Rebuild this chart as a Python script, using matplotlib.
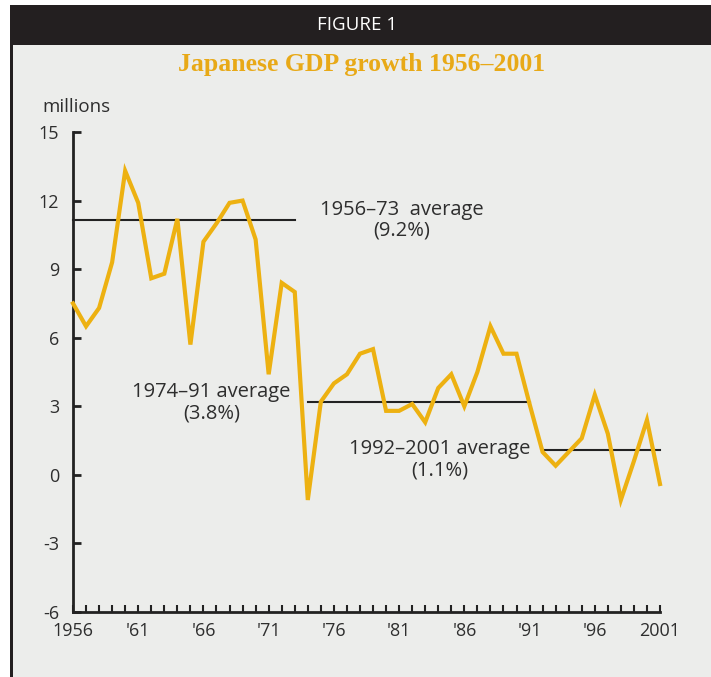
import matplotlib.pyplot as plt
from matplotlib.patches import Rectangle

# Japanese GDP growth
years = list(range(1956, 2002))
growth = [7.5, 6.5, 7.3, 9.3, 13.3, 11.9, 8.6, 8.8, 11.2, 5.7,
          10.2, 11.0, 11.9, 12.0, 10.3, 4.4, 8.4, 8.0, -1.1, 3.2,
          4.0, 4.4, 5.3, 5.5, 2.8, 2.8, 3.1, 2.3, 3.8, 4.4,
          3.0, 4.5, 6.5, 5.3, 5.3, 3.1, 1.0, 0.4, 1.0, 1.6,
          3.5, 1.8, -1.1, 0.6, 2.4, -0.4]

# period averages (drawn level, label text)
avg_periods = [(1956, 1973), (1974, 1991), (1992, 2001)]
avg_levels = [11.15, 3.2, 1.1]
avg_labels = ["1956\u201373  average\n(9.2%)",
              "1974\u201391 average\n(3.8%)",
              "1992\u20132001 average\n(1.1%)"]
label_pos = [(1981.2, 11.15), (1966.6, 3.15), (1984.1, 0.66)]

major_years = list(range(1956, 2002, 5))
major_labels = ["1956", "'61", "'66", "'71", "'76", "'81", "'86", "'91", "'96", "2001"]
yticks = [-6, -3, 0, 3, 6, 9, 12, 15]

W, H = 711, 677
bg = "#ecedeb"
gold = "#edb111"
ink = "#2e2e2e"
font = "Open Sans"

fig = plt.figure(figsize=(W / 100, H / 100), dpi=100, facecolor="white")

# grey panel, header bar and left border
fig.patches.append(Rectangle((10 / W, 0), 1, 1 - 45 / H, transform=fig.transFigure,
                             facecolor=bg, edgecolor="none", zorder=-3))
fig.patches.append(Rectangle((10 / W, 1 - 45 / H), 1, 40 / H, transform=fig.transFigure,
                             facecolor="#231f20", edgecolor="none", zorder=-2))
fig.patches.append(Rectangle((10 / W, 0), 2.5 / W, 1 - 45 / H, transform=fig.transFigure,
                             facecolor="#231f20", edgecolor="none", zorder=-2))

fig.text(357 / W, 1 - 25 / H, "FIGURE 1", color="white", ha="center", va="center",
         fontsize=13.5, family=font)
fig.text(362 / W, 1 - 64 / H, "Japanese GDP growth 1956\u20132001", color="#e8a917",
         ha="center", va="center", fontsize=18.5, fontweight="bold", family="Liberation Serif")
fig.text(42 / W, 1 - 107 / H, "millions", color=ink, ha="left", va="center",
         fontsize=13.5, family=font)

ax = fig.add_axes([73 / W, 1 - 612 / H, (660 - 73) / W, (612 - 132) / H])
ax.set_facecolor("none")

ax.plot(years, growth, color=gold, lw=3, solid_joinstyle="miter", clip_on=False, zorder=3)

for (a, b), lev in zip(avg_periods, avg_levels):
    ax.plot([a, b], [lev, lev], color="#222222", lw=1.5, zorder=2, clip_on=False)

for txt, (x, y) in zip(avg_labels, label_pos):
    ax.text(x, y, txt, ha="center", va="center", fontsize=14.5, color=ink,
            family=font, linespacing=1.05, multialignment="center")

ax.set_xlim(1956, 2001)
ax.set_ylim(-6, 15)
for s in ["top", "right"]:
    ax.spines[s].set_visible(False)
for s in ["left", "bottom"]:
    ax.spines[s].set_linewidth(2)
    ax.spines[s].set_color("#222222")

ax.set_xticks(major_years)
ax.set_xticklabels(major_labels)
ax.set_xticks(years, minor=True)
ax.set_yticks(yticks)
ax.set_yticklabels([str(v) for v in yticks])

ax.tick_params(axis="x", which="both", direction="in", length=5, width=1.5,
               color="#222222", pad=7, labelsize=13, labelcolor=ink)
ax.tick_params(axis="y", direction="in", length=6, width=2, color="#222222",
               pad=10, labelsize=13, labelcolor=ink)
for lab in ax.get_xticklabels() + ax.get_yticklabels():
    lab.set_family(font)

fig.savefig("out.png", dpi=100, facecolor="white")
